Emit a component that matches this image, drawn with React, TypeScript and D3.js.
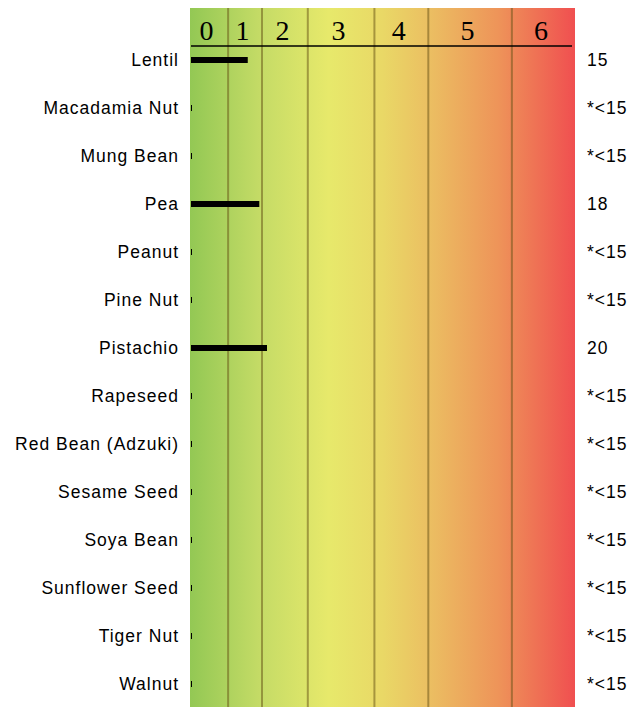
import React from "react";
import * as d3 from "d3";

const foods = [
  "Lentil", "Macadamia Nut", "Mung Bean", "Pea", "Peanut", "Pine Nut", "Pistachio",
  "Rapeseed", "Red Bean (Adzuki)", "Sesame Seed", "Soya Bean", "Sunflower Seed", "Tiger Nut", "Walnut",
];
const values = [15, 0.5, 0.5, 18, 0.5, 0.5, 20, 0.5, 0.5, 0.5, 0.5, 0.5, 0.5, 0.5];
const valueLabels = ["15", "*<15", "*<15", "18", "*<15", "*<15", "20", "*<15", "*<15", "*<15", "*<15", "*<15", "*<15", "*<15"];
const classBoundaries = [9.9, 18.7, 30.6, 47.9, 61.9, 83.6];
const classLabels = ["0", "1", "2", "3", "4", "5", "6"];

export default function App() {
  const W = 637, H = 707;
  const left = 190, right = 575, top = 8;
  const x = d3.scaleLinear().domain([0, 100]).range([left, right]);
  const y = d3.scaleBand<string>().domain(foods).range([36, 708]);
  const edges = [0, ...classBoundaries, 100];
  const ls = 1.0;
  return (
    <svg width={W} height={H} style={{ position: "absolute", left: 0, top: 0 }}>
      <defs>
        <linearGradient id="bg" x1="0" x2="1" y1="0" y2="0">
          <stop offset="0%" stopColor="#93c854" />
          <stop offset="18%" stopColor="#c4db66" />
          <stop offset="36%" stopColor="#e7e96b" />
          <stop offset="50%" stopColor="#e9d866" />
          <stop offset="62%" stopColor="#ebbf62" />
          <stop offset="80%" stopColor="#ee9459" />
          <stop offset="100%" stopColor="#f04f50" />
        </linearGradient>
      </defs>
      <rect x={left} y={top} width={right - left} height={H - top} fill="url(#bg)" />
      {classBoundaries.map((b, i) => (
        <line key={i} x1={x(b)} x2={x(b)} y1={top} y2={H} stroke="rgba(100,80,20,0.5)" strokeWidth={2} />
      ))}
      {classLabels.map((c, i) => (
        <text key={c} x={(x(edges[i]) + x(edges[i + 1])) / 2 - 2.5} y={40} textAnchor="middle"
          fontFamily="'Liberation Serif', 'Times New Roman', serif" fontSize={28} fill="#000">{c}</text>
      ))}
      <line x1={left + 1} x2={572} y1={46} y2={46} stroke="#000" strokeWidth={1.5} />
      {foods.map((f, i) => {
        const cy = (y(f) as number) + y.bandwidth() / 2;
        return (
          <g key={f}>
            <rect x={x(0) + 1} y={cy - 3} width={Math.max(1, x(values[i]) - x(0) - 1)} height={6} fill="#000" />
            <text x={178 + ls} y={cy + 6} textAnchor="end" fontFamily="'Liberation Sans', Arial, sans-serif" fontSize={17.5} letterSpacing={ls} fill="#000">{f}</text>
            <text x={587} y={cy + 6} textAnchor="start" fontFamily="'Liberation Sans', Arial, sans-serif" fontSize={17.5} letterSpacing={ls} fill="#000">{valueLabels[i]}</text>
          </g>
        );
      })}
    </svg>
  );
}
